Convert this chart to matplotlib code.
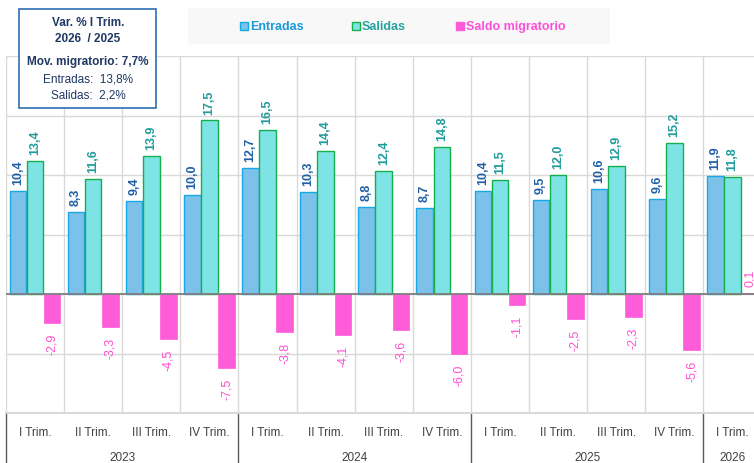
import matplotlib.pyplot as plt
import matplotlib.transforms as mtransforms
from matplotlib.patches import Rectangle

plt.rcParams['font.family'] = ['Liberation Sans', 'DejaVu Sans']

quarters = ['I Trim.', 'II Trim.', 'III Trim.', 'IV Trim.'] * 3 + ['I Trim.']
years = ['2023', '2024', '2025', '2026']
entradas = [10.4, 8.3, 9.4, 10.0, 12.7, 10.3, 8.8, 8.7, 10.4, 9.5, 10.6, 9.6, 11.9]
salidas = [13.4, 11.6, 13.9, 17.5, 16.5, 14.4, 12.4, 14.8, 11.5, 12.0, 12.9, 15.2, 11.8]
saldo = [-2.9, -3.3, -4.5, -7.5, -3.8, -4.1, -3.6, -6.0, -1.1, -2.5, -2.3, -5.6, 0.1]

fig = plt.figure(figsize=(7.54, 4.64), dpi=100)
ax = fig.add_axes([6 / 754, 50 / 464, 1 - 6 / 754, 357 / 464])

x = list(range(len(quarters)))
w = 0.285
off = 0.295
c_ent, e_ent, t_ent = '#7BC1E9', '#19A8E6', '#1F5FA6'
c_sal, e_sal, t_sal = '#7EE3E4', '#14B04E', '#1F9C9A'
c_sdo, t_sdo = '#FF5CD9', '#FF4FD3'

b1 = ax.bar([i - off for i in x], entradas, w, color=c_ent, edgecolor=e_ent, linewidth=1, zorder=3)
b2 = ax.bar(x, salidas, w, color=c_sal, edgecolor=e_sal, linewidth=1, zorder=3)
b3 = ax.bar([i + off for i in x], saldo, w, color=c_sdo, edgecolor=c_sdo, linewidth=0.5, zorder=3)

def fmt(v):
    return f'{v:.1f}'.replace('.', ',')

for bars, vals, col, wt in [(b1, entradas, t_ent, 'bold'), (b2, salidas, t_sal, 'bold'), (b3, saldo, t_sdo, 'normal')]:
    for b, v in zip(bars, vals):
        xc = b.get_x() + b.get_width() / 2
        if v >= 0:
            ax.annotate(fmt(v), (xc, v), xytext=(0, 5), textcoords='offset points',
                        rotation=90, ha='center', va='bottom', color=col, fontsize=9,
                        fontweight=wt)
        else:
            ax.annotate(fmt(v), (xc, v), xytext=(0, -7), textcoords='offset points',
                        rotation=90, ha='center', va='top', color=col, fontsize=9,
                        fontweight=wt)

ax.set_yticks(range(-12, 25, 6))
ax.set_xticks([i + 0.5 for i in range(-1, 13)])
ax.set_xlim(-0.5, 12.37)
ax.set_ylim(-12, 24)
ax.tick_params(left=False, bottom=False, labelleft=False, labelbottom=False)
ax.grid(True, color='#D9D9D9', linewidth=1)
ax.set_axisbelow(True)
for s in ax.spines.values():
    s.set_visible(False)
ax.axhline(0, color='#7F7F7F', linewidth=1.3, zorder=4)

tr = mtransforms.blended_transform_factory(ax.transData, ax.transAxes)
for i, q in enumerate(quarters):
    ax.text(i, -0.052, q, transform=tr, ha='center', va='center', fontsize=8.5,
            color='#404040')
year_pos = [1.5, 5.5, 9.5, 12.0]
for y, p in zip(years, year_pos):
    ax.text(p, -0.122, y, transform=tr, ha='center', va='center', fontsize=8.5,
            color='#404040', clip_on=False)
for sx in [-0.5, 3.5, 7.5, 11.5]:
    ax.plot([sx, sx], [0, -0.16], transform=tr, color='#595959', linewidth=1, clip_on=False)
ax.plot([-0.5, 12.37], [0, 0], transform=tr, color='#D9D9D9', linewidth=1.5, clip_on=False)

# legend box
fig.patches.append(Rectangle((188 / 754, 1 - 45 / 464), 422 / 754, 36 / 464,
                             transform=fig.transFigure, facecolor='#F8F8F8', edgecolor='none'))
leg = [(240, 'Entradas', c_ent, e_ent, '#1A9AD6'),
       (352, 'Salidas', c_sal, e_sal, '#27A39E'),
       (456, 'Saldo migratorio', c_sdo, c_sdo, '#FF4FD8')]
for px, lab, fc, ec, tc in leg:
    fig.patches.append(Rectangle((px / 754, 1 - 31 / 464), 8 / 754, 8 / 464,
                                 transform=fig.transFigure, facecolor=fc, edgecolor=ec, linewidth=1))
    fig.text((px + 10) / 754, 1 - 27 / 464, lab, ha='left', va='center', fontsize=9,
             fontweight='bold', color=tc)

# info box
fig.patches.append(Rectangle((19 / 754, 1 - 109 / 464), 137 / 754, 99 / 464,
                             transform=fig.transFigure, facecolor='white', edgecolor='#2E6DB4',
                             linewidth=1.2, zorder=5))
navy = '#1F3864'
box_lines = [(23, 'Var. % I Trim.', 'bold'), (39, '2026  / 2025', 'bold'),
             (62, 'Mov. migratorio: 7,7%', 'bold'), (79, 'Entradas:  13,8%', 'normal'),
             (96, 'Salidas:  2,2%', 'normal')]
for py, txt, wt in box_lines:
    fig.text(88 / 754, 1 - py / 464, txt, ha='center', va='center', fontsize=8.5,
             fontweight=wt, color=navy, zorder=6)

fig.savefig('out.png', dpi=100)
